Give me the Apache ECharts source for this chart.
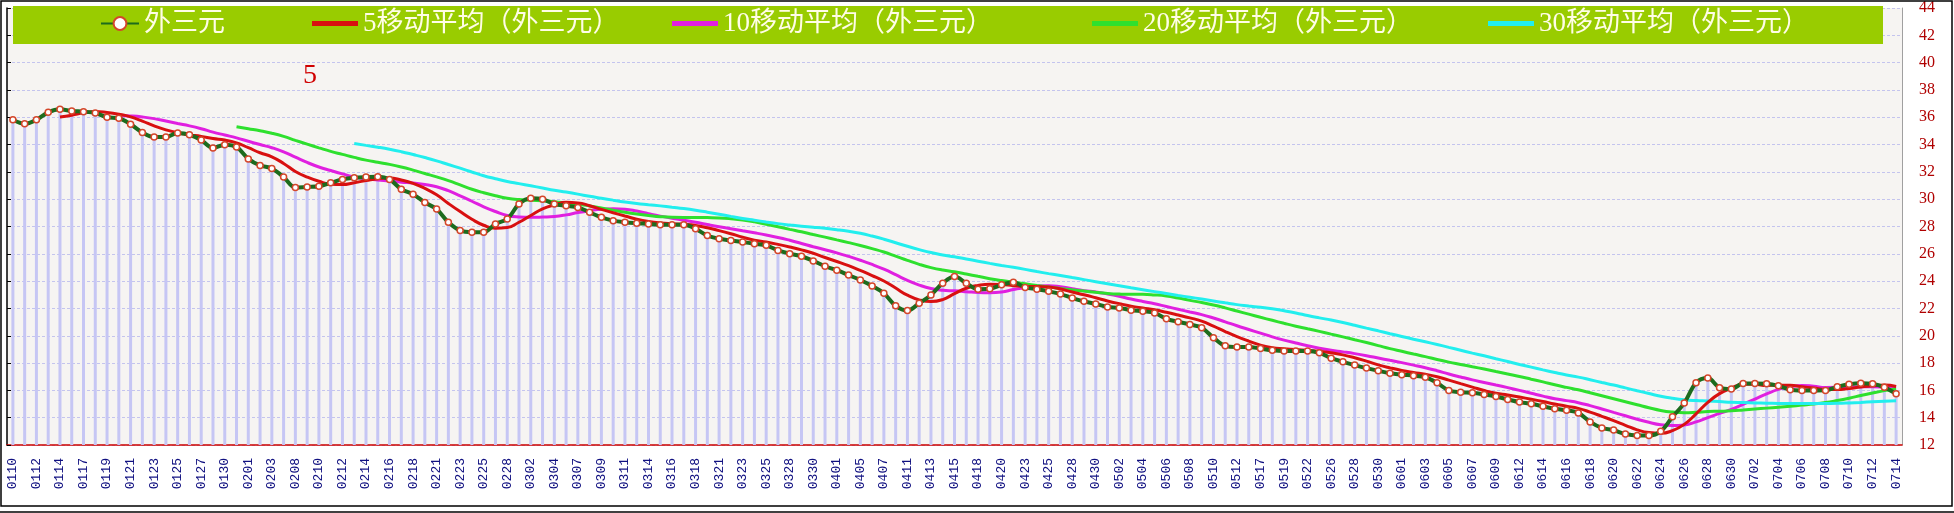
<!DOCTYPE html>
<html><head><meta charset="utf-8">
<script src="https://cdn.jsdelivr.net/npm/echarts@6/dist/echarts.min.js"></script>
<style>html,body{margin:0;padding:0;background:#fff}#c{width:1954px;height:513px}</style>
</head><body><div id="c"></div>
<script>
const dates = ['0110','0111','0112','0113','0114','0115','0117','0118','0119','0120','0121','0122','0123','0124','0125','0126','0127','0128','0130','0131',
'0201','0202','0203','0207','0208','0209','0210','0211','0212','0213','0214','0215','0216','0217','0218','0219','0221','0222','0223','0224',
'0225','0226','0228','0301','0302','0303','0304','0305','0307','0308','0309','0310','0311','0312','0314','0315','0316','0317','0318','0319',
'0321','0322','0323','0324','0325','0326','0328','0329','0330','0331','0401','0402','0405','0406','0407','0408','0411','0412','0413','0414',
'0415','0416','0418','0419','0420','0421','0423','0424','0425','0426','0428','0429','0430','0501','0502','0503','0504','0505','0506','0507',
'0508','0509','0510','0511','0512','0513','0517','0518','0519','0520','0522','0523','0526','0527','0528','0529','0530','0531','0601','0602',
'0603','0604','0605','0606','0607','0608','0609','0610','0612','0613','0614','0615','0616','0617','0618','0619','0620','0621','0622','0623',
'0624','0625','0626','0627','0628','0629','0630','0701','0702','0703','0704','0705','0706','0707','0708','0709','0710','0711','0712','0713','0714'];

const waiSanYuan = [35.81,35.52,35.81,36.36,36.58,36.46,36.41,36.31,36.00,35.93,
35.49,34.89,34.55,34.55,34.84,34.72,34.33,33.75,33.99,33.82,
32.95,32.47,32.25,31.62,30.85,30.90,30.95,31.20,31.45,31.57,
31.62,31.65,31.45,30.73,30.37,29.76,29.28,28.31,27.71,27.58,
27.58,28.19,28.55,29.64,30.07,30.00,29.64,29.52,29.40,29.04,
28.67,28.43,28.31,28.24,28.19,28.12,28.12,28.12,27.83,27.34,
27.10,26.98,26.86,26.74,26.62,26.25,26.01,25.82,25.48,25.09,
24.80,24.44,24.08,23.64,23.11,22.19,21.85,22.38,22.99,23.85,
24.33,23.85,23.41,23.44,23.73,23.92,23.54,23.41,23.25,23.05,
22.76,22.52,22.33,22.11,22.04,21.87,21.79,21.67,21.24,21.02,
20.83,20.59,19.86,19.26,19.18,19.18,19.06,18.94,18.89,18.89,
18.89,18.75,18.36,18.09,17.85,17.63,17.44,17.25,17.15,17.08,
16.96,16.55,15.99,15.87,15.82,15.70,15.55,15.34,15.14,15.02,
14.83,14.66,14.54,14.35,13.69,13.25,13.09,12.80,12.70,12.70,
13.00,14.06,15.07,16.55,16.90,16.20,16.10,16.50,16.50,16.48,
16.33,16.04,15.99,15.99,16.00,16.26,16.45,16.53,16.48,16.22,15.75];

const ma5 = [null,null,null,null,
36.02,36.15,36.32,36.42,36.35,36.22,36.03,35.72,35.37,35.08,
34.86,34.71,34.60,34.44,34.33,34.12,33.77,33.40,33.10,32.62,
32.03,31.62,31.31,31.10,31.07,31.21,31.36,31.50,31.55,31.40,
31.16,30.79,30.32,29.69,29.09,28.53,28.09,27.87,27.92,28.31,
28.81,29.29,29.58,29.77,29.73,29.52,29.25,29.01,28.77,28.54,
28.37,28.26,28.20,28.16,28.08,27.91,27.70,27.47,27.22,27.00,
26.86,26.69,26.50,26.29,26.04,25.73,25.44,25.13,24.78,24.41,
24.01,23.49,22.97,22.63,22.50,22.65,23.08,23.48,23.69,23.78,
23.75,23.67,23.61,23.61,23.57,23.43,23.20,23.00,22.78,22.55,
22.35,22.17,22.03,21.90,21.72,21.52,21.31,21.07,20.71,20.31,
19.94,19.61,19.31,19.12,19.05,18.99,18.93,18.87,18.76,18.60,
18.39,18.14,17.87,17.65,17.46,17.31,17.18,17.00,16.75,16.49,
16.24,15.99,15.79,15.66,15.51,15.35,15.18,15.00,14.84,14.68,
14.41,14.10,13.78,13.44,13.11,12.91,12.86,13.05,13.51,14.28,
15.12,15.76,16.16,16.45,16.44,16.36,16.38,16.37,16.27,16.17,
16.07,16.06,16.14,16.25,16.34,16.39,16.29];

const ma10 = [null,null,null,null,null,null,null,null,null,
36.12,36.09,36.02,35.90,35.72,35.54,35.37,35.16,34.91,34.70,
34.49,34.24,34.00,33.77,33.47,33.08,32.69,32.36,32.10,31.85,
31.62,31.49,31.41,31.33,31.24,31.19,31.08,30.91,30.62,30.25,
29.85,29.44,29.10,28.81,28.70,28.67,28.69,28.73,28.85,29.02,
29.16,29.27,29.30,29.27,29.13,28.94,28.76,28.60,28.46,28.31,
28.14,27.98,27.84,27.69,27.54,27.38,27.20,26.99,26.76,26.52,
26.30,26.07,25.81,25.53,25.22,24.87,24.47,24.05,23.71,23.46,
23.33,23.29,23.23,23.16,23.14,23.20,23.38,23.54,23.65,23.67,
23.59,23.44,23.30,23.20,23.06,22.89,22.69,22.51,22.34,22.14,
21.94,21.74,21.55,21.30,21.02,20.73,20.46,20.19,19.92,19.68,
19.47,19.27,19.09,18.94,18.82,18.69,18.54,18.37,18.20,18.03,
17.85,17.66,17.44,17.20,16.98,16.77,16.58,16.39,16.20,16.00,
15.79,15.58,15.39,15.25,15.10,14.88,14.64,14.39,14.14,13.89,
13.66,13.48,13.42,13.47,13.69,14.01,14.31,14.61,14.98,15.36,
15.74,16.07,16.27,16.36,16.30,16.21,16.22,16.25,16.26,16.26,
16.23,16.17];

const ma20 = [null,null,null,null,null,null,null,null,null,null,
null,null,null,null,null,null,null,null,null,
35.31,35.16,35.01,34.83,34.60,34.31,34.03,33.76,33.50,33.28,
33.06,32.86,32.70,32.55,32.36,32.13,31.88,31.63,31.36,31.05,
30.73,30.47,30.25,30.07,29.97,29.93,29.88,29.82,29.73,29.63,
29.50,29.36,29.20,29.04,28.91,28.81,28.72,28.67,28.66,28.66,
28.65,28.63,28.57,28.48,28.34,28.16,27.98,27.79,27.61,27.41,
27.22,27.02,26.82,26.61,26.38,26.13,25.83,25.52,25.23,24.99,
24.81,24.68,24.52,24.35,24.18,24.04,23.92,23.80,23.68,23.57,
23.46,23.36,23.27,23.18,23.10,23.05,23.03,23.03,22.99,22.91,
22.76,22.59,22.43,22.25,22.04,21.81,21.58,21.35,21.13,20.91,
20.70,20.51,20.32,20.12,19.92,19.71,19.50,19.28,19.06,18.86,
18.66,18.47,18.26,18.07,17.90,17.73,17.56,17.38,17.20,17.02,
16.82,16.62,16.41,16.22,16.04,15.83,15.61,15.39,15.17,14.95,
14.73,14.53,14.41,14.36,14.39,14.45,14.47,14.50,14.56,14.63,
14.70,14.77,14.84,14.92,15.00,15.11,15.26,15.43,15.62,15.81,
15.98,16.12];

const ma30 = [null,null,null,null,null,null,null,null,null,null,
null,null,null,null,null,null,null,null,null,null,
null,null,null,null,null,null,null,null,null,
34.08,33.94,33.81,33.66,33.48,33.27,33.05,32.81,32.54,32.27,
31.99,31.72,31.50,31.30,31.14,30.98,30.82,30.66,30.52,30.37,
30.21,30.07,29.93,29.80,29.69,29.60,29.51,29.41,29.31,29.19,
29.05,28.90,28.74,28.59,28.46,28.33,28.21,28.11,28.02,27.95,
27.87,27.77,27.65,27.50,27.30,27.07,26.81,26.55,26.31,26.09,
25.92,25.78,25.62,25.46,25.30,25.15,25.01,24.86,24.70,24.55,
24.41,24.26,24.11,23.96,23.81,23.66,23.51,23.37,23.23,23.09,
22.95,22.82,22.69,22.55,22.41,22.28,22.18,22.08,21.97,21.83,
21.67,21.48,21.31,21.15,20.97,20.77,20.56,20.36,20.15,19.95,
19.75,19.56,19.36,19.15,18.94,18.73,18.53,18.32,18.11,17.90,
17.70,17.50,17.31,17.13,16.97,16.78,16.58,16.39,16.18,15.97,
15.77,15.57,15.42,15.31,15.25,15.22,15.18,15.13,15.11,15.08,
15.06,15.04,15.03,15.03,15.03,15.04,15.05,15.08,15.12,15.17,
15.21,15.24];

const seriesNames = ['外三元','5移动平均（外三元）','10移动平均（外三元）','20移动平均（外三元）','30移动平均（外三元）'];
const yMin = 12, yMax = 44, yStep = 2;
const titleText = '5';

const maColors = ['#d81010','#e020e0','#2ee02e','#22eeee'];
const legendLefts = [100, 312, 672, 1092, 1488];

const chart = echarts.init(document.getElementById('c'), null, {renderer:'canvas'});

const legendText = {color:'#fffde6', fontSize:27, fontFamily:"'Liberation Serif','Noto Sans CJK SC',serif"};
const legends = seriesNames.map((n, k) => (k === 0 ? {
  data:[n], left: legendLefts[k], top: 10, padding: 0, itemGap: 0,
  itemWidth: 38, itemHeight: 16, textStyle: legendText, z: 10, selectedMode: false
} : {
  data:[{name: n, icon: 'rect'}], left: legendLefts[k], top: 10, padding: 0, itemGap: 0,
  itemWidth: 46, itemHeight: 5, textStyle: legendText, z: 10, selectedMode: false
}));

const option = {
  animation: false,
  backgroundColor: '#ffffff',
  title: {text: titleText, left: 298, top: 57, textStyle: {color:'#d00000', fontSize: 28, fontWeight:'normal', fontFamily:'Liberation Serif'}},
  legend: legends,
  grid: {left: 7, right: 52, top: 4, bottom: 68, show: true, backgroundColor:'#f6f4f2', borderWidth: 0},
  xAxis: {
    type:'category', data: dates, boundaryGap: true,
    axisLine: {lineStyle: {color:'#cc0000', width: 1.5}},
    axisTick: {inside: true, length: 5, interval: 1, lineStyle: {color:'#cc0000'}},
    axisLabel: {interval: 1, rotate: 90, color:'#101080', fontFamily:"'Liberation Mono',monospace", fontSize: 13, margin: 13},
    splitLine: {show: false}
  },
  yAxis: [
    {type:'value', position:'right', min: yMin, max: yMax, interval: yStep,
     axisLine: {show: true, lineStyle: {color:'#a0a0a0'}}, axisTick: {show: false},
     axisLabel: {color:'#b00000', fontSize: 16, fontFamily:"'Liberation Serif',serif", margin: 17},
     splitLine: {show: true, lineStyle: {color:'#c4c4ee', type:[3,2], width: 1}}},
    {type:'value', position:'left', min: yMin, max: yMax, interval: yStep,
     axisLine: {show: true, lineStyle: {color:'#000000', width: 1.5}},
     axisTick: {show: true, inside: true, length: 4, lineStyle: {color:'#000'}},
     axisLabel: {show: false}, splitLine: {show: false}}
  ],
  series: [
    {type:'bar', name:'bars', data: waiSanYuan, barWidth: 3, itemStyle: {color:'#c6c6f4'}, z: 1, silent: true},
    {type:'line', name: seriesNames[1], data: ma5, smooth: true, symbol:'none', lineStyle: {color: maColors[0], width: 3}, itemStyle:{color: maColors[0]}, z: 4},
    {type:'line', name: seriesNames[2], data: ma10, smooth: true, symbol:'none', lineStyle: {color: maColors[1], width: 3}, itemStyle:{color: maColors[1]}, z: 3},
    {type:'line', name: seriesNames[3], data: ma20, smooth: true, symbol:'none', lineStyle: {color: maColors[2], width: 3}, itemStyle:{color: maColors[2]}, z: 3},
    {type:'line', name: seriesNames[4], data: ma30, smooth: true, symbol:'none', lineStyle: {color: maColors[3], width: 3}, itemStyle:{color: maColors[3]}, z: 3},
    {type:'line', name: seriesNames[0], data: waiSanYuan, smooth: 0.35, symbol:'circle', symbolSize: 6, showAllSymbol: true,
     lineStyle: {color:'#1d6b1d', width: 4}, itemStyle: {color:'#ffffff', borderColor:'#d4462a', borderWidth: 1.5}, z: 5}
  ],
  graphic: [
    {type:'rect', shape:{x:13, y:6, width:1870, height:38}, style:{fill:'#99cc00'}, z: 3, silent: true},
    {type:'rect', shape:{x:1, y:1, width:1951, height:505}, style:{fill:null, stroke:'#000', lineWidth:1.5}, z: 20, silent: true},
    {type:'line', shape:{x1:0, y1:512, x2:1954, y2:512}, style:{stroke:'#000', lineWidth:1.5}, z: 20, silent: true}
  ]
};
chart.setOption(option);
</script>
</body></html>
